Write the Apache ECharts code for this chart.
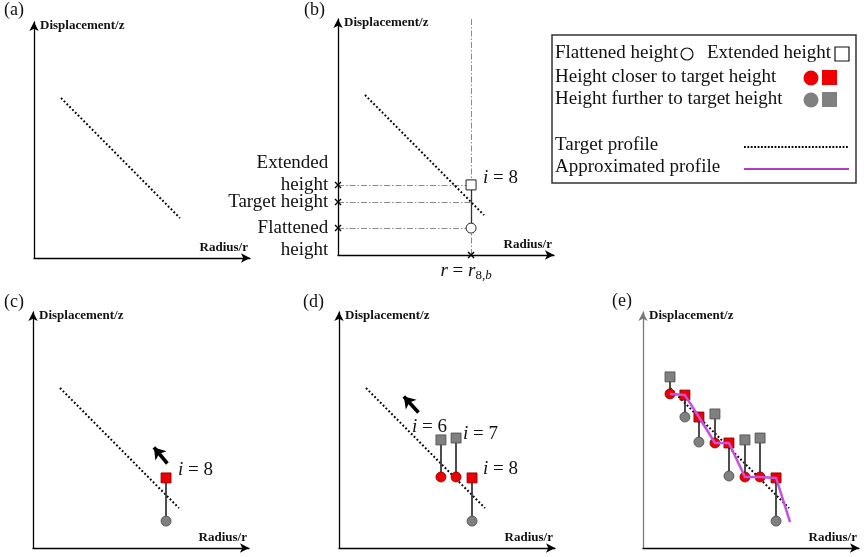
<!DOCTYPE html>
<html>
<head>
<meta charset="utf-8">
<script src="https://cdn.jsdelivr.net/npm/echarts@6/dist/echarts.min.js"></script>
<style>
  html, body { margin: 0; padding: 0; background: #fff; }
  #chart { width: 868px; height: 557px; }
</style>
</head>
<body>
<div id="chart"></div>
<script>
// ---- data (radius / displacement in arbitrary units) ----
const stepIndex = [1, 2, 3, 4, 5, 6, 7, 8];
const radius = [1.25, 1.94, 2.59, 3.33, 3.98, 4.72, 5.42, 6.16];
const flattenedHeight = [6.53, 5.55, 4.49, 4.45, 3.05, 3.01, 3.01, 1.14];
const extendedHeight = [7.25, 6.48, 5.55, 5.68, 4.45, 4.58, 4.66, 2.97];
const targetProfile = [[1.25, 6.78], [6.76, 1.69]];
const approxTail = [6.81, 1.10];
const panelTitles = ['(a)', '(b)', '(c)', '(d)', '(e)'];
const xAxisName = 'Radius/r';
const yAxisName = 'Displacement/z';
// steps shown in each panel (c), (d), (e)
const stepsC = [8];
const stepsD = [6, 7, 8];
const stepsE = [1, 2, 3, 4, 5, 6, 7, 8];
// direction arrows in (c) and (d): [tail, head]
const arrowC = [[6.22, 3.58], [5.60, 4.26]];
const arrowD = [[3.68, 5.74], [3.00, 6.42]];
// step labels: [r, z, i]
const labelsB = [[6.71, 3.26, 8]];
const labelsC = [[6.71, 3.30, 8]];
const labelsD = [[3.38, 5.13, 6], [5.74, 4.83, 7], [6.67, 3.35, 8]];

// ---- styling ----
const SERIF = '"Liberation Serif", "Times New Roman", serif';
const RED = '#ee0000';
const GREY = '#808080';
const MAGENTA = '#c452dc';

function targetAt(r) {
  const [p0, p1] = targetProfile;
  return p0[1] + (p1[1] - p0[1]) * (r - p0[0]) / (p1[0] - p0[0]);
}
function closerIsFlattened(k) {
  const t = targetAt(radius[k]);
  return Math.abs(flattenedHeight[k] - t) <= Math.abs(extendedHeight[k] - t);
}

const origins = [[34, 258], [338, 255], [33, 548], [339, 548], [643, 548]];
const GW = 216, GH = 236;
const grid = origins.map(o => ({ left: o[0], top: o[1] - GH, width: GW, height: GH }));

const xAxis = origins.map((o, p) => ({
  type: 'value', gridIndex: p, min: 0, max: 10,
  axisLine: { show: true, onZero: false, symbol: ['none', 'arrow'], symbolSize: [7, 9],
              lineStyle: { color: '#000', width: 1.3 } },
  axisTick: { show: false }, axisLabel: { show: false }, splitLine: { show: false },
  name: xAxisName, nameLocation: 'end', nameGap: -2,
  nameTextStyle: { fontFamily: SERIF, fontWeight: 'bold', fontSize: 13, color: '#111',
                   align: 'right', verticalAlign: 'bottom', padding: [0, 0, 4, 0] }
}));
const yAxis = origins.map((o, p) => ({
  type: 'value', gridIndex: p, min: 0, max: 10,
  axisLine: { show: true, onZero: false, symbol: ['none', 'arrow'], symbolSize: [7, 9],
              lineStyle: { color: p === 4 ? '#7a7a7a' : '#000', width: 1.3 } },
  axisTick: { show: false }, axisLabel: { show: false }, splitLine: { show: false },
  name: yAxisName, nameLocation: 'end', nameGap: -4,
  nameTextStyle: { fontFamily: SERIF, fontWeight: 'bold', fontSize: 13, color: '#111',
                   align: 'left', verticalAlign: 'middle', padding: [0, 0, 0, 6] }
}));

const series = [];
const ax = p => ({ xAxisIndex: p, yAxisIndex: p });

// target profile in every panel
for (let p = 0; p < 5; p++) {
  series.push(Object.assign({
    type: 'line', data: targetProfile, showSymbol: false, silent: true, z: 2,
    lineStyle: { color: '#000', width: 2, type: [1.8, 2.2], opacity: 1 }
  }, ax(p)));
}

// ---- panel (b): construction of step i = 8 ----
const k8 = 7, r8 = radius[k8];
const dashDot = { color: '#8a8a8a', width: 1, type: [6, 2, 1.5, 2], opacity: 1 };
series.push(Object.assign({
  type: 'lines', coordinateSystem: 'cartesian2d', silent: true, z: 1,
  lineStyle: dashDot,
  data: [
    { coords: [[r8, 0], [r8, 10]] },
    { coords: [[0, extendedHeight[k8]], [r8, extendedHeight[k8]]] },
    { coords: [[0, targetAt(r8)], [r8, targetAt(r8)]] },
    { coords: [[0, flattenedHeight[k8]], [r8, flattenedHeight[k8]]] }
  ]
}, ax(1)));
series.push(Object.assign({
  type: 'lines', coordinateSystem: 'cartesian2d', silent: true, z: 3,
  lineStyle: { color: '#333', width: 1.3, type: 'solid', opacity: 1 },
  data: [{ coords: [[r8, flattenedHeight[k8]], [r8, extendedHeight[k8]]] }]
}, ax(1)));
series.push(Object.assign({
  type: 'scatter', silent: true, z: 5, symbolSize: 10,
  itemStyle: { color: '#fff', borderColor: '#222', borderWidth: 1, opacity: 1 },
  data: [
    { value: [r8, flattenedHeight[k8]], symbol: 'circle' },
    { value: [r8, extendedHeight[k8]], symbol: 'rect' }
  ]
}, ax(1)));
const cross = 'path://M0,0L10,10M10,0L0,10';
const sideLabel = { fontFamily: SERIF, fontSize: 19, color: '#111', lineHeight: 22, align: 'right' };
series.push(Object.assign({
  type: 'scatter', silent: true, z: 6, clip: false, symbol: cross, symbolSize: 6,
  itemStyle: { color: 'transparent', borderColor: '#000', borderWidth: 1.4, opacity: 1 },
  data: [
    { value: [0, extendedHeight[k8]],
      label: Object.assign({ show: true, position: 'left', distance: 6, formatter: 'Extended\nheight', offset: [0, -11] }, sideLabel) },
    { value: [0, targetAt(r8)],
      label: Object.assign({ show: true, position: 'left', distance: 6, formatter: 'Target height' }, sideLabel) },
    { value: [0, flattenedHeight[k8]],
      label: Object.assign({ show: true, position: 'left', distance: 6, formatter: 'Flattened\nheight', offset: [0, 11] }, sideLabel) },
    { value: [r8, 0],
      label: { show: true, position: 'bottom', distance: 2, offset: [-5, 0],
               formatter: '{it|r} = {it|r}{sub|8,}{subi|b}',
               rich: {
                 it: { fontFamily: SERIF, fontSize: 19, fontStyle: 'italic', color: '#111' },
                 sub: { fontFamily: SERIF, fontSize: 13, color: '#111', padding: [8, 0, 0, 0] },
                 subi: { fontFamily: SERIF, fontSize: 13, fontStyle: 'italic', color: '#111', padding: [8, 0, 0, 0] }
               },
               fontFamily: SERIF, fontSize: 19, color: '#111' } }
  ]
}, ax(1)));

// ---- stems + markers for panels (c), (d), (e) ----
function addSteps(p, steps) {
  const ks = steps.map(i => stepIndex.indexOf(i));
  series.push(Object.assign({
    type: 'lines', coordinateSystem: 'cartesian2d', silent: true, z: 3,
    lineStyle: { color: '#2e2e2e', width: 1.7, type: 'solid', opacity: 1 },
    data: ks.map(k => ({ coords: [[radius[k], flattenedHeight[k]], [radius[k], extendedHeight[k]]] }))
  }, ax(p)));
  const pts = [];
  ks.forEach(k => {
    const flatCloser = closerIsFlattened(k);
    pts.push({ value: [radius[k], flattenedHeight[k]], symbol: 'circle',
               itemStyle: { color: flatCloser ? RED : GREY, borderColor: flatCloser ? '#7a0000' : '#4a4a4a' } });
    pts.push({ value: [radius[k], extendedHeight[k]], symbol: 'rect',
               itemStyle: { color: flatCloser ? GREY : RED, borderColor: flatCloser ? '#4a4a4a' : '#7a0000' } });
  });
  series.push(Object.assign({
    type: 'scatter', silent: true, z: 5, symbolSize: 10,
    itemStyle: { borderWidth: 0.8, opacity: 1 }, data: pts
  }, ax(p)));
}
addSteps(2, stepsC);
addSteps(3, stepsD);
addSteps(4, stepsE);

// approximated profile through the closer heights in (e), drawn over the markers
const approxProfile = radius.map((r, k) => [r, closerIsFlattened(k) ? flattenedHeight[k] : extendedHeight[k]]);
approxProfile.push(approxTail);
series.push(Object.assign({
  type: 'line', data: approxProfile, showSymbol: false, silent: true, z: 6,
  lineStyle: { color: MAGENTA, width: 2.5, opacity: 1 }
}, ax(4)));

// direction arrows
[[2, arrowC], [3, arrowD]].forEach(([p, a]) => {
  series.push(Object.assign({
    type: 'lines', coordinateSystem: 'cartesian2d', silent: true, z: 6,
    symbol: ['none', 'arrow'], symbolSize: 11,
    lineStyle: { color: '#000', width: 3.6, type: 'solid', opacity: 1 },
    data: [{ coords: a }]
  }, ax(p)));
});

// step labels  "i = n"
const stepLabel = {
  show: true, position: 'right', distance: 0,
  formatter: prm => '{it|i} = ' + prm.value[2],
  fontFamily: SERIF, fontSize: 19, color: '#111',
  rich: { it: { fontFamily: SERIF, fontSize: 19, fontStyle: 'italic', color: '#111' } }
};
[[1, labelsB], [2, labelsC], [3, labelsD]].forEach(([p, l]) => {
  series.push(Object.assign({
    type: 'scatter', silent: true, z: 7, symbolSize: 0, clip: false,
    itemStyle: { opacity: 1 },
    data: l, label: stepLabel
  }, ax(p)));
});

// panel titles
const titlePos = [[4, 1], [304, 1], [4, 293], [303, 293], [612, 292]];
const title = panelTitles.map((t, p) => ({
  text: t, left: titlePos[p][0], top: titlePos[p][1], padding: 0,
  textStyle: { fontFamily: SERIF, fontWeight: 'normal', fontSize: 18, color: '#111' }
}));

// legend box
const LX = 552, LY = 35, LW = 304, LH = 148;
const legText = (txt, x, y) => ({ type: 'text', x, y, z: 11, style: { text: txt, fontFamily: SERIF, fontSize: 19, fill: '#111', verticalAlign: 'middle' } });
const graphic = [
  { type: 'rect', shape: { x: LX, y: LY, width: LW, height: LH }, style: { fill: '#fff', stroke: '#333', lineWidth: 1.5 }, z: 10 },
  legText('Flattened height', 555, 53),
  { type: 'circle', shape: { cx: 687, cy: 54, r: 6 }, style: { fill: '#fff', stroke: '#111', lineWidth: 1.2 }, z: 11 },
  legText('Extended height', 707, 53),
  { type: 'rect', shape: { x: 835, y: 47, width: 14, height: 14 }, style: { fill: '#fff', stroke: '#111', lineWidth: 1.2 }, z: 11 },
  legText('Height closer to target height', 555, 77),
  { type: 'circle', shape: { cx: 811, cy: 78, r: 7.5 }, style: { fill: RED }, z: 11 },
  { type: 'rect', shape: { x: 822, y: 70, width: 15, height: 15 }, style: { fill: RED }, z: 11 },
  legText('Height further to target height', 555, 99),
  { type: 'circle', shape: { cx: 811, cy: 100, r: 7.5 }, style: { fill: GREY }, z: 11 },
  { type: 'rect', shape: { x: 822, y: 92, width: 15, height: 15 }, style: { fill: GREY }, z: 11 },
  legText('Target profile', 555, 145),
  { type: 'line', shape: { x1: 744, y1: 147, x2: 848, y2: 147 }, style: { stroke: '#000', lineWidth: 2, lineDash: [1.8, 1.6] }, z: 11 },
  legText('Approximated profile', 555, 167),
  { type: 'line', shape: { x1: 744, y1: 169, x2: 849, y2: 169 }, style: { stroke: '#b23cc4', lineWidth: 2 }, z: 11 }
];

const chart = echarts.init(document.getElementById('chart'), null, { renderer: 'canvas' });
chart.setOption({
  animation: false,
  backgroundColor: '#fff',
  title, grid, xAxis, yAxis, series, graphic
});
</script>
</body>
</html>
